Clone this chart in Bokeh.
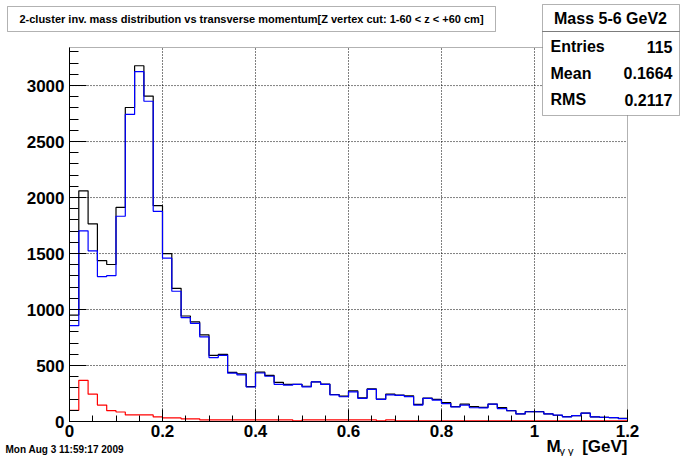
import numpy as np
from bokeh.plotting import figure
from bokeh.models import FixedTicker, Label, BoxAnnotation, LinearAxis, Range1d
from bokeh.embed import file_html
from bokeh.resources import INLINE

# ---------------- data ----------------
bin_edges = np.round(np.linspace(0.0, 1.2, 61), 4)

black_counts = [950, 2060, 1765, 1436, 1402, 1912, 2804, 3177, 2906, 1927,
                1500, 1189, 942, 889, 774, 591, 600, 438, 426, 312,
                441, 412, 350, 332, 332, 315, 353, 335, 241, 226,
                274, 212, 291, 200, 244, 235, 229, 153, 209, 197,
                168, 132, 156, 132, 127, 156, 125, 97, 68, 88,
                88, 68, 56, 44, 53, 74, 41, 38, 35, 29]

blue_counts = [856, 1703, 1524, 1294, 1303, 1833, 2742, 3124, 2860, 1877,
               1459, 1163, 927, 877, 756, 571, 591, 432, 417, 308,
               433, 404, 332, 324, 332, 309, 353, 332, 237, 221,
               265, 206, 286, 197, 238, 233, 222, 147, 206, 190,
               160, 130, 146, 123, 122, 156, 115, 96, 68, 87,
               87, 68, 57, 42, 52, 75, 42, 36, 35, 26]

red_counts = [100, 368, 244, 147, 97, 85, 59, 59, 59, 41,
              32, 32, 24, 24, 15, 15, 15, 15, 15, 15,
              15, 15, 15, 15, 6, 15, 15, 15, 15, 15,
              15, 15, 15, 6, 15, 6, 6, 6, 6, 6,
              6, 6, 6, 6, 6, 6, 6, 6, 6, 6,
              6, 6, 6, 6, 6, 6, 6, 6, 6, 6]

x_min, x_max = 0.0, 1.2
y_min, y_max = 0.0, 3340.0
x_ticks = [0.0, 0.2, 0.4, 0.6, 0.8, 1.0, 1.2]
x_tick_labels = ["0", "0.2", "0.4", "0.6", "0.8", "1", "1.2"]
x_minor = [round(0.05 * i, 4) for i in range(25)]
y_ticks = [0, 500, 1000, 1500, 2000, 2500, 3000]
y_minor = [100 * i for i in range(34)]
x_grid = [0.2, 0.4, 0.6, 0.8, 1.0]
y_grid = [500, 1000, 1500, 2000, 2500, 3000]

title_text = "2-cluster inv. mass distribution vs transverse momentum[Z vertex cut: 1-60 < z < +60 cm]"
stats_title = "Mass 5-6 GeV2"
stats_names = ["Entries", "Mean", "RMS"]
stats_values = ["115", "0.1664", "0.2117"]
date_text = "Mon Aug  3 11:59:17 2009"
xlabel_main = "M"
xlabel_sub = "\u03b3 \u03b3"
xlabel_unit = "[GeV]"

FONT = "Liberation Sans"

# ---------------- layout geometry (canvas pixels) ----------------
W, H = 680, 456
FL, FR, FT, FB = 69, 627, 47, 421      # data frame edges
xpp = (x_max - x_min) / (FR - FL)        # data units per pixel
ypp = (y_max - y_min) / (FB - FT)

p = figure(width=W, height=H,
           x_range=Range1d(x_min - FL * xpp, x_max + (W - FR) * xpp),
           y_range=Range1d(y_min - (H - FB) * ypp, y_max + FT * ypp),
           x_axis_type=None, y_axis_type=None,
           output_backend="svg", toolbar_location=None,
           min_border=0)
p.title.visible = False
p.outline_line_color = None
p.background_fill_color = "white"
p.border_fill_color = "white"
p.grid.visible = False

# grid (dotted)
p.segment(x0=x_grid, y0=[y_min] * len(x_grid), x1=x_grid, y1=[y_max] * len(x_grid),
          line_color="black", line_width=1, line_dash="1 2")
p.segment(x0=[x_min] * len(y_grid), y0=y_grid, x1=[x_max] * len(y_grid), y1=y_grid,
          line_color="black", line_width=1, line_dash="1 2")

# axes
xaxis = LinearAxis(fixed_location=0, bounds=(x_min, x_max),
                   ticker=FixedTicker(ticks=x_ticks, minor_ticks=x_minor))
xaxis.major_label_overrides = {t: l for t, l in zip(x_ticks, x_tick_labels)}
xaxis.major_tick_in = 12
xaxis.minor_tick_in = 6
xaxis.major_label_standoff = 3
yaxis = LinearAxis(fixed_location=0, bounds=(y_min, y_max),
                   ticker=FixedTicker(ticks=y_ticks, minor_ticks=y_minor))
yaxis.major_tick_in = 17
yaxis.minor_tick_in = 9
yaxis.major_label_standoff = 5
for ax in (xaxis, yaxis):
    ax.axis_line_color = "black"
    ax.axis_line_width = 1
    ax.major_tick_line_color = "black"
    ax.minor_tick_line_color = "black"
    ax.major_tick_out = 0
    ax.minor_tick_out = 0
    ax.major_label_text_font = FONT
    ax.major_label_text_font_style = "bold"
    ax.major_label_text_font_size = "17px"
    ax.major_label_text_color = "black"
p.add_layout(xaxis, "below")
p.add_layout(yaxis, "left")

# ---------------- histograms ----------------
def step_y(vals):
    return list(vals) + [vals[-1]]

p.step(x=bin_edges, y=step_y(black_counts), mode="after", line_color="black", line_width=1.2)
p.step(x=bin_edges, y=step_y(blue_counts), mode="after", line_color="#0000ff", line_width=1.2)
p.step(x=bin_edges, y=step_y(red_counts), mode="after", line_color="#ff0000", line_width=1.2)

# frame box
p.add_layout(BoxAnnotation(left=x_min, right=x_max, bottom=y_min, top=y_max,
                           fill_alpha=0, line_color="black", line_width=1))

# ---------------- annotations (screen units) ----------------
def sx(px):
    return px

def sy(py):
    return H - py

def box(l, r, t, b, fill=True):
    return BoxAnnotation(left=sx(l), right=sx(r), top=sy(t), bottom=sy(b),
                         left_units="screen", right_units="screen",
                         top_units="screen", bottom_units="screen",
                         fill_color="white", fill_alpha=1 if fill else 0,
                         line_color="black", line_width=1)

def text(x, y, s, size, align="left", baseline="middle", style="bold"):
    return Label(x=sx(x), y=sy(y), x_units="screen", y_units="screen",
                 text=s, text_font=FONT, text_font_style=style,
                 text_font_size=size, text_align=align, text_baseline=baseline,
                 text_color="black")

# title box
p.add_layout(box(7, 495, 6, 31))
p.add_layout(text(251, 18.5, title_text, "11px", align="center"))

# stats box
p.add_layout(box(542, 679, 4, 115))
p.add_layout(box(542, 679, 31, 31, fill=False))
p.add_layout(text(610, 18, stats_title, "16px", align="center"))
for i, (n, v) in enumerate(zip(stats_names, stats_values)):
    yy = 46 + 26.5 * i
    p.add_layout(text(550, yy, n, "16px", align="left"))
    p.add_layout(text(672, yy, v, "16px", align="right"))

# x axis title
p.add_layout(text(546, 446, xlabel_main, "17px"))
p.add_layout(text(559, 450, xlabel_sub, "11px", style="normal"))
p.add_layout(text(627, 446, xlabel_unit, "17px", align="right"))

# date
p.add_layout(text(5, 449, date_text, "10px"))

open("out.html", "w").write(file_html(p, INLINE))
